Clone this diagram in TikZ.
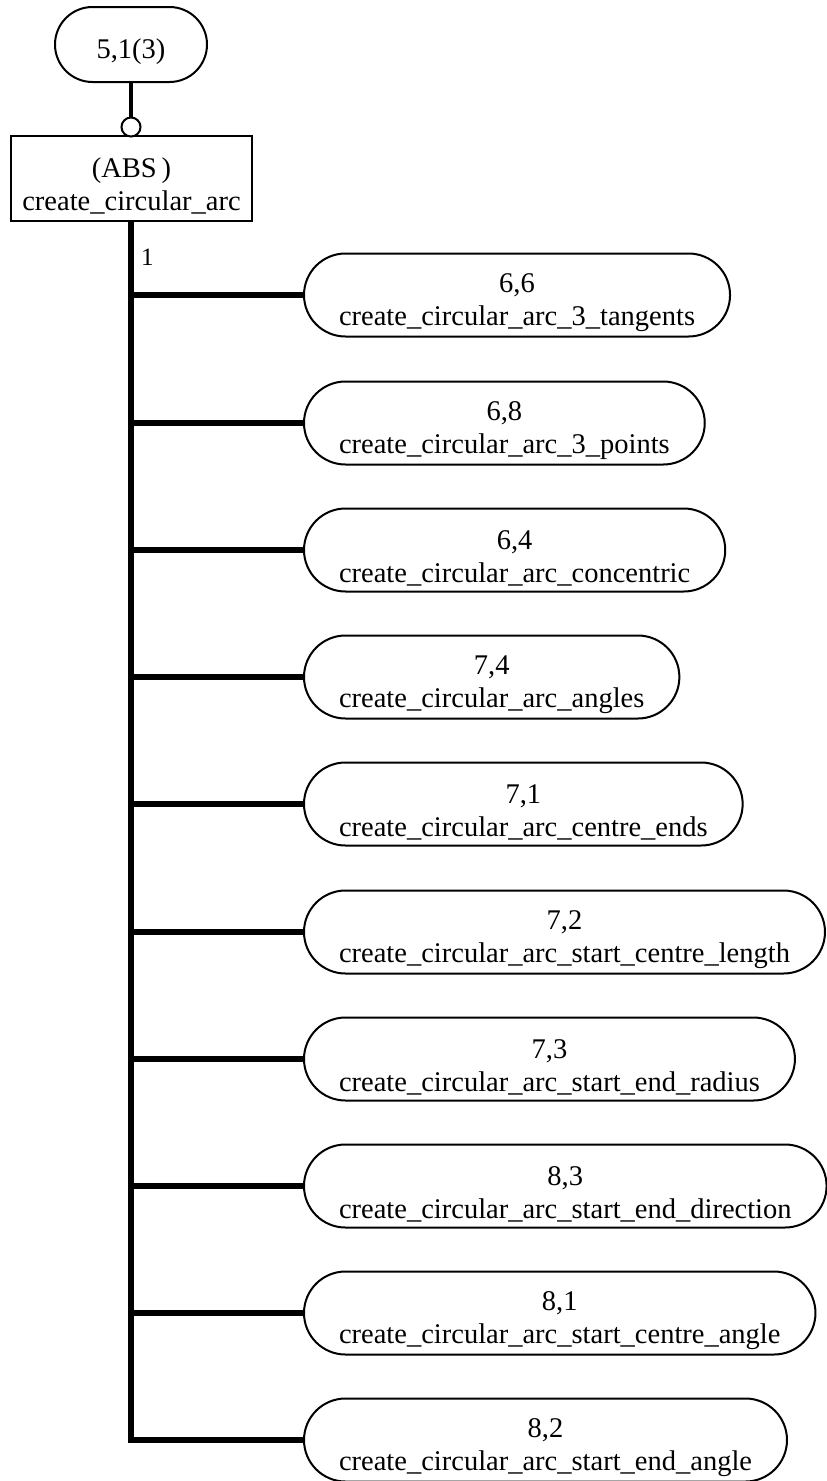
\documentclass[tikz,border=0pt]{standalone}
\usepackage{fontspec}
\setmainfont{Liberation Serif}
% tall strut opening the first line, so the text sits a little below the centre
\newcommand\lowstrut{\rule{0pt}{35pt}}
\begin{document}
\begin{tikzpicture}[x=1pt,y=-1pt,
  every node/.style={font=\fontsize{28.5}{33}\selectfont, align=center},
  capsule/.style={draw, line width=2pt, rectangle, rounded corners=41.5pt,
    minimum height=83pt, inner xsep=35pt, inner ysep=0pt, anchor=west},
  topcap/.style={draw, line width=2pt, rectangle, rounded corners=37.5pt,
    minimum height=75pt, minimum width=152pt, inner sep=0pt},
  entitybox/.style={draw, line width=2pt, rectangle, minimum width=241pt,
    minimum height=85pt, inner sep=0pt},
  ring/.style={draw, line width=2pt, circle, fill=white, minimum size=19pt, inner sep=0pt},
  bar/.style={line width=6pt},
  link/.style={line width=4.5pt}]
\useasboundingbox (0,0) rectangle (827,1481);

% parent reference and abstract entity
\node[topcap] (top) at (131,44.5) {\lowstrut 5,1(3)};
\node[entitybox] (abs) at (131.5,178.5) {\lowstrut(ABS\thinspace)\\create\_circular\_arc};
\node[ring] (ring) at (131,127) {};
\draw[link] (top.south) -- (ring.north);

% subtype nodes
\node[capsule] (n1)  at (303,295)  {\lowstrut 6,6\\create\_circular\_arc\_3\_tangents};
\node[capsule] (n2)  at (303,423)  {\lowstrut 6,8\\create\_circular\_arc\_3\_points};
\node[capsule] (n3)  at (303,550)  {\lowstrut 6,4\\create\_circular\_arc\_concentric};
\node[capsule] (n4)  at (303,677)  {\lowstrut 7,4\\create\_circular\_arc\_angles};
\node[capsule] (n5)  at (303,804)  {\lowstrut 7,1\\create\_circular\_arc\_centre\_ends};
\node[capsule] (n6)  at (303,932)  {\lowstrut 7,2\\create\_circular\_arc\_start\_centre\_length};
\node[capsule] (n7)  at (303,1059) {\lowstrut 7,3\\create\_circular\_arc\_start\_end\_radius};
\node[capsule] (n8)  at (303,1186) {\lowstrut 8,3\\create\_circular\_arc\_start\_end\_direction};
\node[capsule] (n9)  at (303,1313) {\lowstrut 8,1\\create\_circular\_arc\_start\_centre\_angle};
\node[capsule] (n10) at (303,1440) {\lowstrut 8,2\\create\_circular\_arc\_start\_end\_angle};

% junctions on the trunk
\foreach \k/\yy in {1/295,2/423,3/550,4/677,5/804,6/932,7/1059,8/1186,9/1313}
  \coordinate (j\k) at (131,\yy);

% trunk and branches
\draw[bar] (abs.south -| ring) -- (n10.west -| ring) -- (n10.west);
\foreach \k in {1,...,9}
  \draw[bar] (j\k) -- (n\k.west);

\node[font=\fontsize{25}{28}\selectfont, anchor=base west, inner sep=0pt] (one) at (141,265) {1};
\end{tikzpicture}
\end{document}
